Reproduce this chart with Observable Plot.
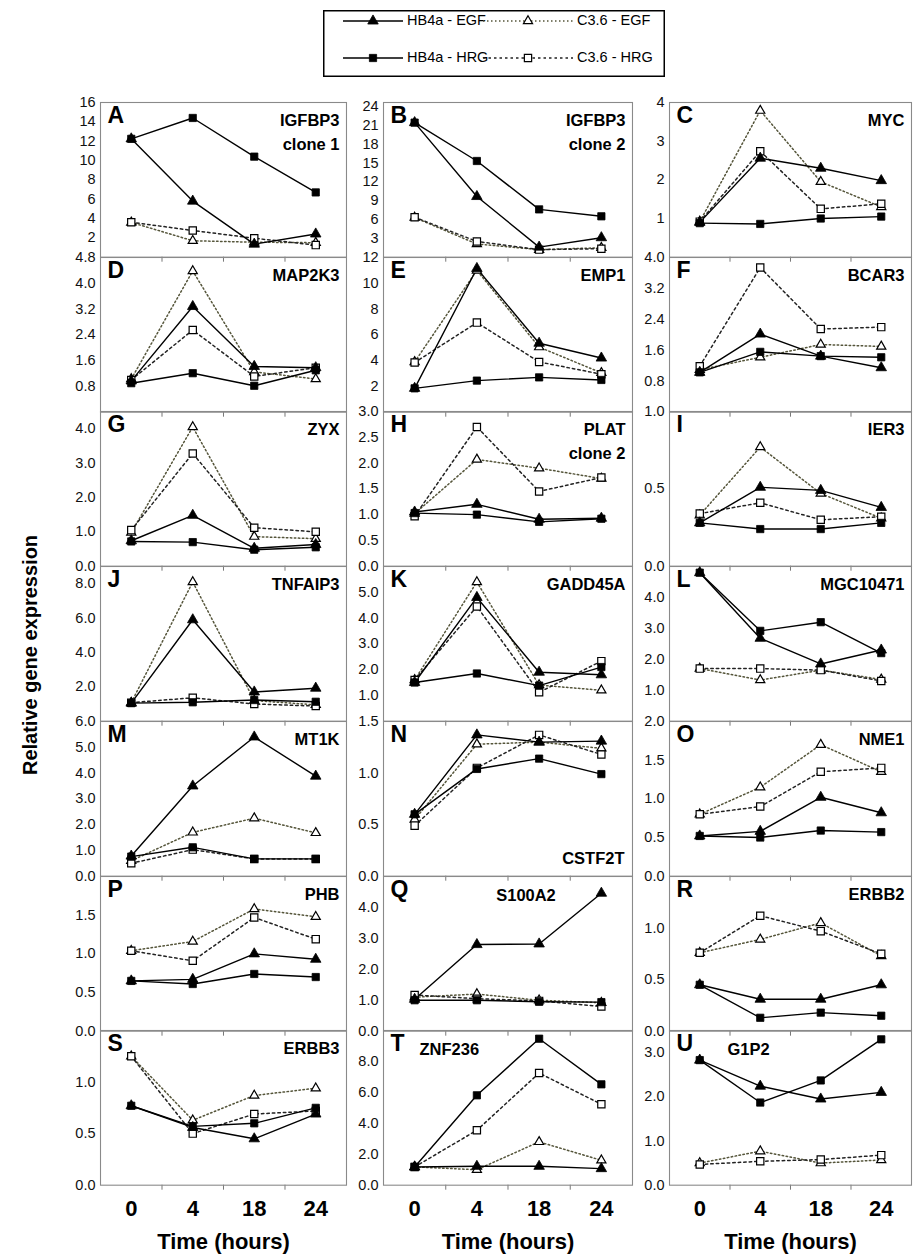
<!DOCTYPE html>
<html><head><meta charset="utf-8">
<script src="https://cdn.jsdelivr.net/npm/d3@7"></script>
<script src="https://cdn.jsdelivr.net/npm/@observablehq/plot@0.6"></script>
<style>
body{margin:0;background:#fff;font-family:"Liberation Sans",Arial,sans-serif;}
#root{position:relative;width:914px;height:1260px;overflow:hidden;background:#fff;}
.panel{position:absolute;}
.panel svg{overflow:visible;}
</style></head><body><div id="root"></div>
<script>
// ---------------- data ----------------
const times = ["0", "4", "18", "24"];
const seriesNames = ["HB4a - EGF", "HB4a - HRG", "C3.6 - EGF", "C3.6 - HRG"];
const panelLetters = ["A","B","C","D","E","F","G","H","I","J","K","L","M","N","O","P","Q","R","S","T","U"];
const geneNames = ["IGFBP3\nclone 1","IGFBP3\nclone 2","MYC","MAP2K3","EMP1","BCAR3","ZYX","PLAT\nclone 2","IER3",
  "TNFAIP3","GADD45A","MGC10471","MT1K","CSTF2T","NME1","PHB","S100A2","ERBB2","ERBB3","ZNF236","G1P2"];
const yDomains = [[0,16],[0,24.6],[0,4],[0,4.8],[0,12],[0,4],[0,4.5],[0,3],[0,1],[0,9],[0,6],[0,5],
  [0,6],[0,1.5],[0,2],[0,2],[0,5],[0,1.5],[0,1.5],[0,10],[0,3.5]];
const yTicks = [
  [2,4,6,8,10,12,14,16],[3,6,9,12,15,18,21,24],[1,2,3,4],
  [0.8,1.6,2.4,3.2,4.0,4.8],[2,4,6,8,10,12],[0.8,1.6,2.4,3.2,4.0],
  [0,1,2,3,4],[0,0.5,1,1.5,2,2.5,3],[0,0.5,1],
  [2,4,6,8],[1,2,3,4,5],[1,2,3,4],
  [0,1,2,3,4,5,6],[0,0.5,1,1.5],[0,0.5,1,1.5,2],
  [0,0.5,1,1.5],[0,1,2,3,4],[0,0.5,1],
  [0,0.5,1],[0,2,4,6,8],[0,1,2,3]];
const yTickFormats = ["d","d","d",".1f","d",".1f",".1f",".1f",".1f",".1f",".1f",".1f",
  ".1f",".1f",".1f",".1f",".1f",".1f",".1f",".1f",".1f"];

// values at 0, 4, 18, 24 h, one row per panel A..U
const hb4aEGF = [
  [12.24,5.8,1.35,2.4],[21.4,9.65,1.6,3.1],[0.9,2.56,2.3,1.98],
  [0.97,3.28,1.42,1.38],[1.85,11.15,5.35,4.2],[1.03,2.02,1.45,1.15],
  [0.74,1.48,0.52,0.63],[1.05,1.2,0.91,0.93],[0.28,0.51,0.49,0.38],
  [1.05,5.9,1.7,1.92],[1.5,4.8,1.9,1.8],[4.8,2.68,1.85,2.3],
  [0.78,3.5,5.4,3.88],[0.6,1.37,1.3,1.31],[0.52,0.58,1.02,0.82],
  [0.65,0.67,1.0,0.93],[1.03,2.8,2.82,4.46],[0.45,0.31,0.31,0.45],
  [0.77,0.56,0.45,0.69],[1.18,1.22,1.22,1.07],[2.83,2.24,1.95,2.1]];
const hb4aHRG = [
  [12.24,14.4,10.4,6.7],[21.4,15.3,7.6,6.5],[0.88,0.86,1.0,1.05],
  [0.9,1.21,0.82,1.3],[1.85,2.45,2.7,2.5],[1.03,1.56,1.45,1.42],
  [0.72,0.7,0.48,0.55],[1.03,1.0,0.86,0.92],[0.28,0.24,0.24,0.28],
  [1.05,1.1,1.23,1.13],[1.5,1.85,1.38,2.1],[4.8,2.92,3.2,2.2],
  [0.76,1.12,0.67,0.67],[0.6,1.04,1.14,0.99],[0.52,0.5,0.59,0.57],
  [0.65,0.61,0.74,0.7],[1.0,1.0,0.95,0.94],[0.45,0.13,0.18,0.15],
  [0.77,0.57,0.6,0.75],[1.18,5.81,9.47,6.52],[2.83,1.87,2.37,3.3]];
const c36EGF = [
  [3.6,1.7,1.55,1.5],[6.3,2.1,1.2,1.5],[0.92,3.79,1.95,1.3],
  [1.03,4.38,1.25,1.03],[3.9,11.0,5.05,3.05],[1.1,1.42,1.75,1.7],
  [0.98,4.05,0.86,0.8],[1.02,2.07,1.9,1.7],[0.33,0.77,0.47,0.31],
  [1.08,8.1,1.2,0.95],[1.6,5.4,1.4,1.2],[1.7,1.33,1.65,1.35],
  [0.6,1.7,2.25,1.68],[0.55,1.28,1.3,1.24],[0.8,1.15,1.7,1.35],
  [1.04,1.16,1.58,1.48],[1.1,1.2,1.0,0.92],[0.76,0.89,1.05,0.73],
  [1.25,0.63,0.87,0.94],[1.18,1.0,2.8,1.61],[0.5,0.77,0.5,0.57]];
const c36HRG = [
  [3.62,2.76,1.96,1.25],[6.36,2.5,1.2,1.35],[0.92,2.74,1.25,1.38],
  [1.0,2.55,1.11,1.38],[3.85,6.95,3.9,2.95],[1.19,3.74,2.15,2.2],
  [1.05,3.28,1.12,1.0],[0.97,2.7,1.45,1.72],[0.34,0.41,0.3,0.32],
  [1.08,1.36,1.0,0.88],[1.6,4.45,1.12,2.33],[1.7,1.7,1.65,1.3],
  [0.5,1.03,0.67,0.67],[0.49,1.05,1.37,1.18],[0.8,0.9,1.35,1.4],
  [1.04,0.91,1.47,1.19],[1.17,1.05,0.98,0.8],[0.76,1.12,0.97,0.75],
  [1.25,0.5,0.69,0.72],[1.18,3.55,7.25,5.23],[0.47,0.54,0.58,0.68]];

// ---------------- styles / layout ----------------
const FONT = "Liberation Sans, Arial, sans-serif";
const seriesValues = [hb4aEGF, hb4aHRG, c36EGF, c36HRG];
const seriesStyle = [
  {stroke: "#000", dash: null, width: 1.4, symbol: "triangle", fill: "#000", r: 3.9},
  {stroke: "#000", dash: null, width: 1.4, symbol: "square", fill: "#000", r: 4.1},
  {stroke: "#55553a", dash: "1.5,2.5", width: 1.5, symbol: "triangle", fill: "#fff", r: 3.4},
  {stroke: "#222", dash: "2.5,3", width: 1.5, symbol: "square", fill: "#fff", r: 4.1}
];
const drawOrder = [2, 3, 0, 1];
const colLeft = [100, 383, 669];
const colW = [246, 249, 242];
const rowTop0 = 102, rowH = 154.7;
const geneOverride = {
  "CSTF2T": {frameAnchor: "bottom-right", dx: -8, dy: -12, textAnchor: "end", lineAnchor: "bottom"},
  "S100A2": {frameAnchor: "top", dx: 18, dy: 8, textAnchor: "middle", lineAnchor: "top"},
  "ZNF236": {frameAnchor: "top-left", dx: 36, dy: 8, textAnchor: "start", lineAnchor: "top"},
  "G1P2": {frameAnchor: "top-left", dx: 58, dy: 8, textAnchor: "start", lineAnchor: "top"}
};

const root = document.getElementById("root");

panelLetters.forEach((letter, i) => {
  const col = i % 3, row = Math.floor(i / 3);
  const isBottom = row === 6;
  const W = colW[col], H = rowH;
  const mL = 50, mR = 2, mT = 2, mB = isBottom ? 80 : 8;
  const boundaries = d3.range(1, times.length).map(k => k - 0.5);
  const rows = [];
  seriesValues.forEach((vals, s) => vals[i].forEach((v, t) => rows.push({s, t, v})));
  const fmt = d3.format(yTickFormats[i]);
  const marks = [
    Plot.axisY({ticks: yTicks[i], tickSize: 0, tickPadding: 5, tickFormat: fmt, label: null,
      fontSize: 14.5, fill: "#111", fontFamily: FONT}),
    Plot.axisX({ticks: boundaries, tickSize: 5, tickFormat: () => "", label: null, stroke: "#777"}),
    Plot.frame({stroke: "#8a8a8a", strokeWidth: 1.1})
  ];
  drawOrder.forEach(s => {
    const st = seriesStyle[s];
    const d = rows.filter(r => r.s === s);
    marks.push(Plot.line(d, {x: "t", y: "v", stroke: st.stroke, strokeWidth: st.width,
      strokeDasharray: st.dash || undefined}));
  });
  drawOrder.forEach(s => {
    const st = seriesStyle[s];
    const d = rows.filter(r => r.s === s);
    marks.push(Plot.dot(d, {x: "t", y: "v", symbol: () => st.symbol, r: st.r, fill: st.fill,
      stroke: "#000", strokeWidth: st.fill === "#fff" ? 1.2 : 0.8}));
  });
  marks.push(Plot.text([letter], {frameAnchor: "top-left", dx: 7, dy: 4, textAnchor: "start",
    lineAnchor: "top", fontSize: 23, fontWeight: "bold", fontFamily: FONT, fill: "#000"}));
  const gname = geneNames[i];
  const ov = geneOverride[gname] || {frameAnchor: "top-right", dx: -7, dy: 7, textAnchor: "end", lineAnchor: "top"};
  marks.push(Plot.text([gname], {...ov, fontSize: 16.5, fontWeight: "bold", lineHeight: 1.42,
    fontFamily: FONT, fill: "#000"}));
  if (isBottom) {
    marks.push(Plot.text(times, {x: (d, k) => k, frameAnchor: "bottom", dy: 31, fontSize: 22,
      fontWeight: "bold", fontFamily: FONT, fill: "#000"}));
    marks.push(Plot.text(["Time (hours)"], {frameAnchor: "bottom", dy: 64, fontSize: 22,
      fontWeight: "bold", fontFamily: FONT, fill: "#000"}));
  }
  const svg = Plot.plot({
    width: mL + W + mR, height: mT + H + mB,
    marginLeft: mL, marginRight: mR, marginTop: mT, marginBottom: mB,
    style: {background: "transparent", overflow: "visible", fontFamily: FONT},
    x: {domain: [-0.5, times.length - 0.5], axis: null},
    y: {domain: yDomains[i], axis: null},
    marks
  });
  const div = document.createElement("div");
  div.className = "panel";
  div.style.left = (colLeft[col] - mL) + "px";
  div.style.top = (rowTop0 + row * rowH - mT) + "px";
  div.appendChild(svg);
  root.appendChild(div);
});

// rotated y title
const ytitle = d3.create("svg").attr("width", 40).attr("height", 400)
  .style("position", "absolute").style("left", "10px").style("top", "455px");
ytitle.append("text").attr("transform", "translate(22,200) rotate(-90)")
  .attr("text-anchor", "middle").attr("dominant-baseline", "middle")
  .style("font", "bold 20px " + FONT).text("Relative gene expression");
root.appendChild(ytitle.node());

// legend
const legW = 342, legH = 67;
const leg = d3.create("svg").attr("width", legW).attr("height", legH)
  .style("position", "absolute").style("left", "323px").style("top", "10px");
leg.append("rect").attr("x", 0.75).attr("y", 0.75).attr("width", legW - 1.5).attr("height", legH - 1.5)
  .attr("fill", "#fff").attr("stroke", "#000").attr("stroke-width", 1.5);
const legPos = [[0, 0], [0, 1], [1, 0], [1, 1]];
seriesNames.forEach((name, s) => {
  const st = seriesStyle[s];
  const [c, r] = legPos[s];
  const x0 = c === 0 ? 20 : 160, x1 = c === 0 ? 80 : 250;
  const y = r === 0 ? 11 : 48;
  leg.append("line").attr("x1", x0).attr("x2", x1).attr("y1", y).attr("y2", y)
    .attr("stroke", st.stroke).attr("stroke-width", st.width)
    .attr("stroke-dasharray", st.dash);
  const sym = st.symbol === "triangle" ? d3.symbolTriangle : d3.symbolSquare;
  leg.append("path").attr("d", d3.symbol(sym, Math.PI * st.r * st.r)())
    .attr("transform", `translate(${(x0 + x1) / 2},${y})`)
    .attr("fill", st.fill).attr("stroke", "#000").attr("stroke-width", st.fill === "#fff" ? 1.2 : 0.8);
  leg.append("text").attr("x", x1 + 4).attr("y", y).attr("dominant-baseline", "middle")
    .style("font", "14.5px " + FONT).text(name);
});
root.appendChild(leg.node());
</script></body></html>
